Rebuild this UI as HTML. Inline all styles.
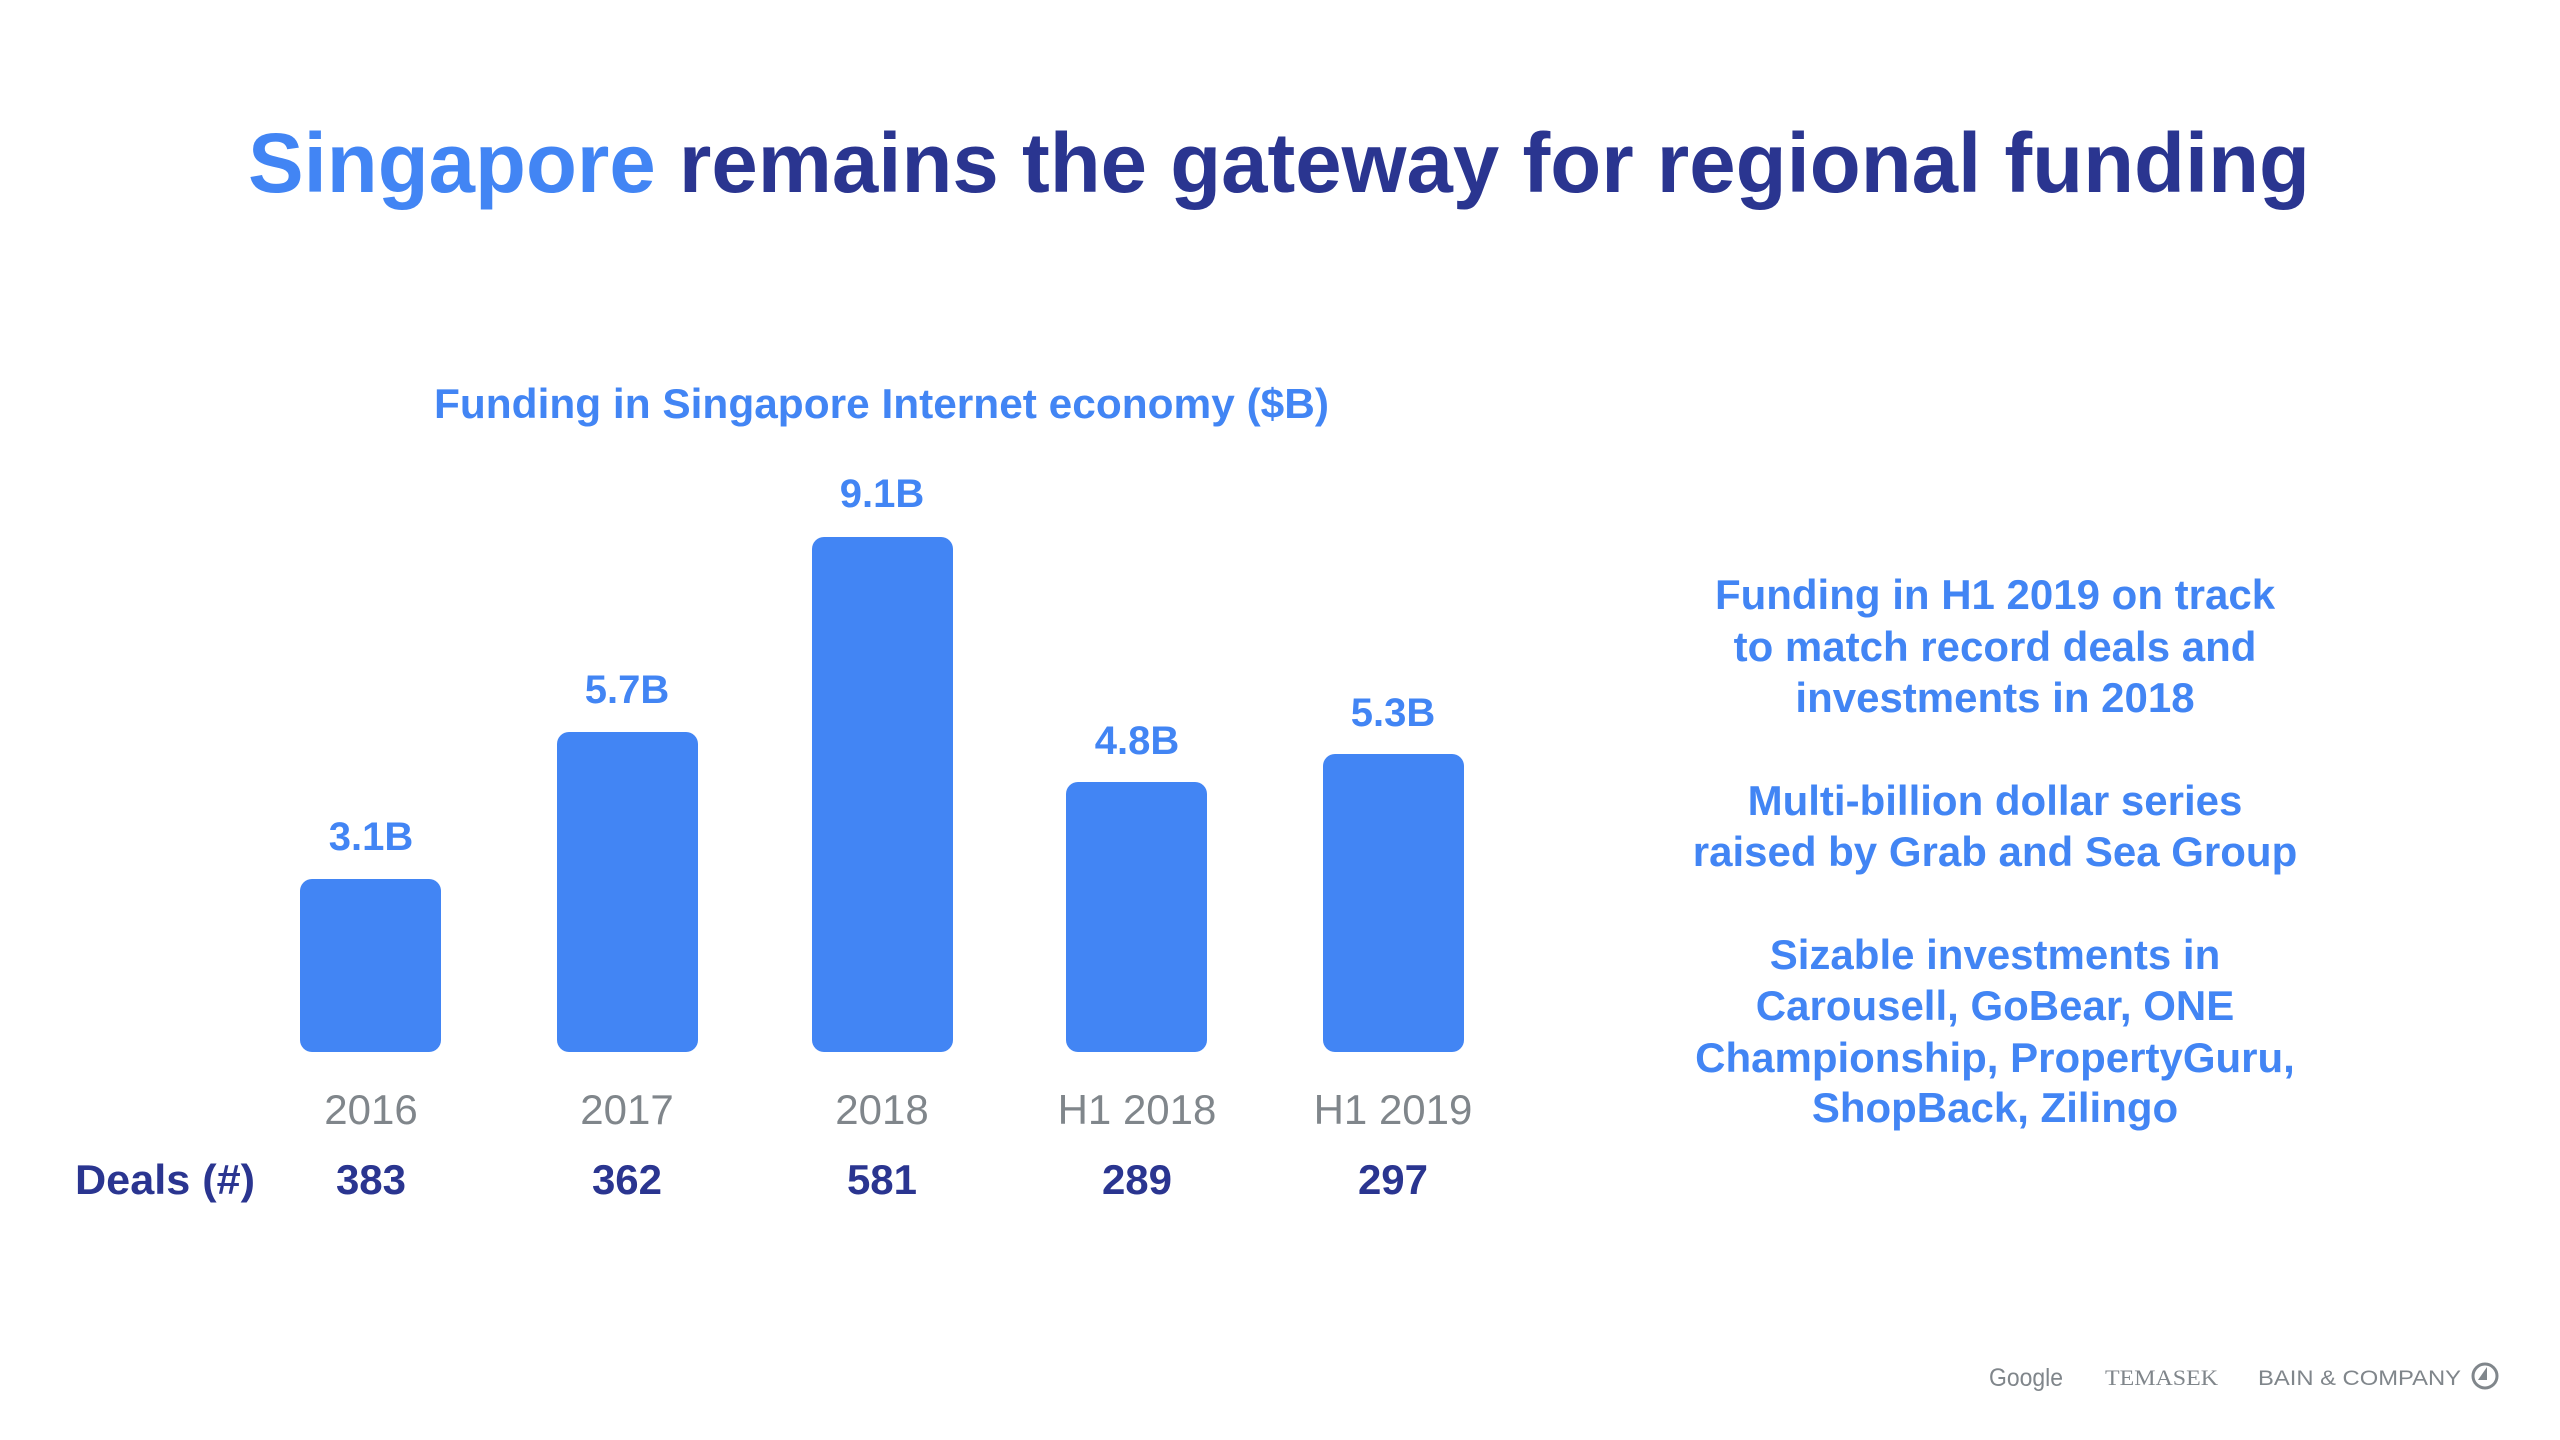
<!DOCTYPE html>
<html><head><meta charset="utf-8"><style>
html,body{margin:0;padding:0;background:#fff;}
svg{display:block;}
text{font-family:"Liberation Sans",sans-serif;}
</style></head><body>
<svg width="2560" height="1440" viewBox="0 0 2560 1440" xmlns="http://www.w3.org/2000/svg">
<rect width="2560" height="1440" fill="#fff"/>
<text x="248" y="192" font-size="84" font-weight="bold" fill="#2a3590" textLength="2062" lengthAdjust="spacingAndGlyphs"><tspan fill="#4285f4">Singapore</tspan> remains the gateway for regional funding</text>
<text x="434" y="418" font-size="42" font-weight="bold" fill="#4285f4" textLength="895" lengthAdjust="spacingAndGlyphs">Funding in Singapore Internet economy ($B)</text>
<g fill="#4285f4">
<rect x="300" y="879" width="141" height="173" rx="12"/>
<rect x="557" y="732" width="141" height="320" rx="12"/>
<rect x="812" y="537" width="141" height="515" rx="12"/>
<rect x="1066" y="782" width="141" height="270" rx="12"/>
<rect x="1323" y="754" width="141" height="298" rx="12"/>
</g>
<g font-size="40" font-weight="bold" fill="#4285f4" text-anchor="middle">
<text x="371" y="850">3.1B</text>
<text x="627" y="703">5.7B</text>
<text x="882" y="507">9.1B</text>
<text x="1137" y="754">4.8B</text>
<text x="1393" y="726">5.3B</text>
</g>
<g font-size="42" fill="#80868b" text-anchor="middle">
<text x="371" y="1124">2016</text>
<text x="627" y="1124">2017</text>
<text x="882" y="1124">2018</text>
<text x="1137" y="1124">H1 2018</text>
<text x="1393" y="1124">H1 2019</text>
</g>
<g font-size="42" font-weight="bold" fill="#2a3590">
<text x="75" y="1194" textLength="180" lengthAdjust="spacingAndGlyphs">Deals (#)</text>
<g text-anchor="middle">
<text x="371" y="1194">383</text>
<text x="627" y="1194">362</text>
<text x="882" y="1194">581</text>
<text x="1137" y="1194">289</text>
<text x="1393" y="1194">297</text>
</g></g>
<g font-size="42" font-weight="bold" fill="#4285f4" text-anchor="middle">
<text x="1995" y="609">Funding in H1 2019 on track</text>
<text x="1995" y="661">to match record deals and</text>
<text x="1995" y="712">investments in 2018</text>
<text x="1995" y="815">Multi-billion dollar series</text>
<text x="1995" y="866">raised by Grab and Sea Group</text>
<text x="1995" y="969">Sizable investments in</text>
<text x="1995" y="1020">Carousell, GoBear, ONE</text>
<text x="1995" y="1072">Championship, PropertyGuru,</text>
<text x="1995" y="1122">ShopBack, Zilingo</text>
</g>
<g fill="#80868b">
<text x="1989" y="1386" font-size="25" textLength="74" lengthAdjust="spacingAndGlyphs">Google</text>
<text x="2105" y="1385" font-size="22" font-family="Liberation Serif,serif" textLength="113" lengthAdjust="spacingAndGlyphs" style="font-family:'Liberation Serif',serif">TEMASEK</text>
<text x="2258" y="1385" font-size="21" textLength="203" lengthAdjust="spacingAndGlyphs">BAIN &amp; COMPANY</text>
<circle cx="2485" cy="1376" r="12" fill="none" stroke="#80868b" stroke-width="3"/>
<path d="M2487 1367 L2487 1380 L2478 1380 Z"/>
</g>
</svg>
</body></html>
